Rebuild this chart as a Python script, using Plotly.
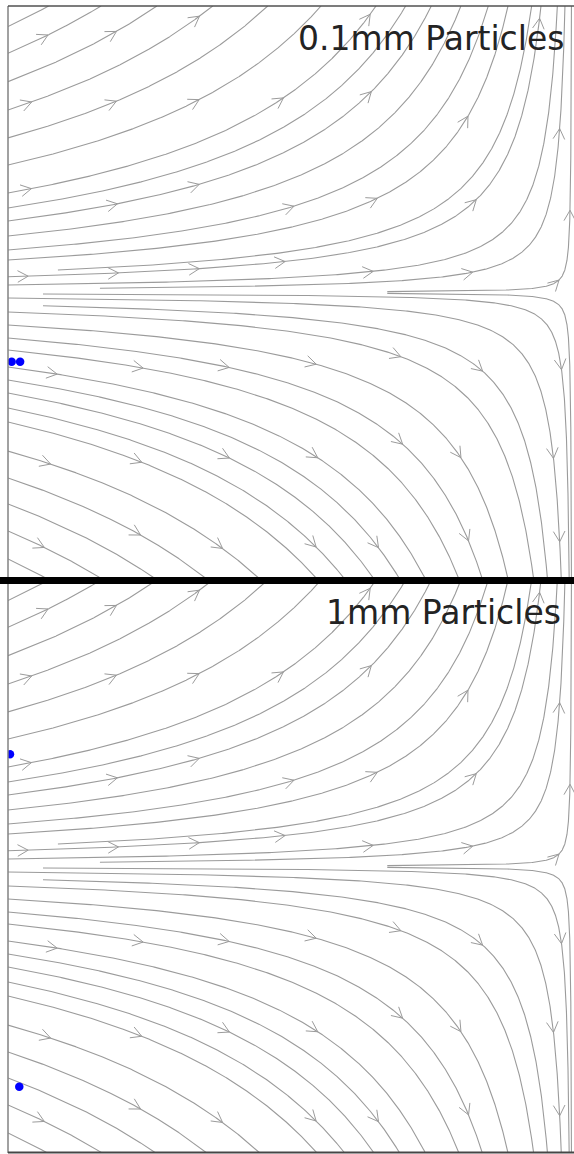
import numpy as np
import plotly.graph_objects as go

# Stagnation-point flow toward the wall at x = 1:  u = 1 - x,  v = y.
# Each streamline is the curve (1 - x) * y = c.

# streamlines that enter through the left edge (x = -1), labelled by c
inlet_c = [1.856, 1.670, 1.472, 1.274, 1.079, 0.890, 0.695, 0.590, 0.499,
           0.394, 0.297, 0.227, 0.110, 0.052,
           -0.038, -0.136, -0.227, -0.318, -0.401, -0.520, -0.611, -0.702,
           -0.806, -0.904, -1.107, -1.295, -1.476, -1.665, -1.860]

# streamlines that begin inside the box: constant, start x, end x (nan = runs out of the box)
inner_c = [0.143, 0.025, -0.010, -0.087, 0.002, -0.002]
inner_x0 = [-0.823, -0.674, -0.876, -0.876, 0.345, 0.345]
inner_x1 = [np.nan, np.nan, np.nan, np.nan, np.nan, np.nan]

# arrowhead locations along the streamlines
arrow_x = [-0.858, -0.613, -0.319, -0.915, -0.613, -0.319, -0.018, -0.915, -0.319, -0.613,
           -0.922, -0.613, -0.319, -0.018, -0.823, -0.521, -0.213, -0.844, -0.521, -0.213,
           -0.862, -0.521, -0.223, 0.298, 0.298, 0.663, 0.947, 0.014, 0.323, 0.677,
           0.965, 0.298, 0.652, 0.954, 0.096, 0.394, 0.677, 0.954, 0.096, 0.404,
           0.617, 0.936, 0.096, 0.323, 0.628, 0.961, 0.911]
arrow_y = [0.899, 0.906, 0.962, 0.661, 0.661, 0.668, 0.672, 0.358, 0.375, 0.305,
           0.054, 0.068, 0.082, 0.103, -0.281, -0.278, -0.260, -0.585, -0.578, -0.571,
           -0.871, -0.832, -0.871, 0.962, 0.693, 0.595, 0.571, 0.298, 0.298, 0.305,
           0.288, 0.068, 0.054, 0.044, -0.246, -0.225, -0.281, -0.271, -0.578, -0.525,
           -0.571, -0.578, -0.885, -0.885, -0.871, -0.871, 0.951]

# particle positions in each panel
titles = ["0.1mm Particles", "1mm Particles"]
particles_x = [[-0.987, -0.957], [-0.993, -0.960]]
particles_y = [[-0.2415, -0.2415], [0.392, -0.769]]

W, H = 574, 1154
X_LEFT_PX = 8
KX, KY = 282.0, 286.5          # pixels per data unit
LINE_COL = "rgb(155,155,155)"


def streamline(c, x0, x1):
    s0 = 1.0 - x0
    s1 = abs(c) if np.isnan(x1) else 1.0 - x1
    s = np.geomspace(s0, s1, 400)
    return 1.0 - s, c / s


curves = [streamline(c, -1.0, np.nan) for c in inlet_c]
curves += [streamline(c, a, b) for c, a, b in zip(inner_c, inner_x0, inner_x1)]

line_x, line_y = [], []
for cx, cy in curves:
    line_x += list(cx) + [None]
    line_y += list(cy) + [None]

# open chevron arrowheads, aligned with the local streamline direction
all_x = np.concatenate([c[0] for c in curves])
all_y = np.concatenate([c[1] for c in curves])
seg_id = np.concatenate([np.full(len(c[0]), i) for i, c in enumerate(curves)])
head_x, head_y = [], []
L, TH = 12.0, np.radians(29)
for ax_, ay_ in zip(arrow_x, arrow_y):
    d = np.hypot((all_x - ax_) * KX, (all_y - ay_) * KY)
    i = int(np.argmin(d))
    k = seg_id[i]
    cx, cy = curves[k]
    j = i - np.searchsorted(seg_id, k)
    j = min(max(j, 1), len(cx) - 2)
    tx = (cx[j + 1] - cx[j - 1]) * KX
    ty = (cy[j + 1] - cy[j - 1]) * KY
    n = np.hypot(tx, ty)
    tx, ty = tx / n, ty / n
    px, py = cx[j], cy[j]
    pts = []
    for sgn in (1, -1):
        ct, st = np.cos(sgn * TH), np.sin(sgn * TH)
        bx = -(tx * ct - ty * st) * L
        by = -(tx * st + ty * ct) * L
        pts.append((px + bx / KX, py + by / KY))
    head_x += [pts[0][0], px, pts[1][0], None]
    head_y += [pts[0][1], py, pts[1][1], None]

fig = go.Figure()

x_dom = [X_LEFT_PX / W, 1.0]
x_rng = [-1.0, -1.0 + (W - X_LEFT_PX) / KX]
panels_px = [(6, 579), (580, 1153)]

for p, (top_px, bot_px) in enumerate(panels_px):
    xa = "x" if p == 0 else "x2"
    ya = "y" if p == 0 else "y2"
    fig.add_trace(go.Scatter(x=line_x, y=line_y, mode="lines", xaxis=xa, yaxis=ya,
                             line=dict(color=LINE_COL, width=1.1), hoverinfo="skip",
                             showlegend=False))
    fig.add_trace(go.Scatter(x=head_x, y=head_y, mode="lines", xaxis=xa, yaxis=ya,
                             line=dict(color=LINE_COL, width=1.0), hoverinfo="skip",
                             showlegend=False))
    fig.add_trace(go.Scatter(x=particles_x[p], y=particles_y[p], mode="markers",
                             xaxis=xa, yaxis=ya,
                             marker=dict(color="rgb(0,0,255)", size=8.5, line=dict(width=0)),
                             showlegend=False))
    dom = [1 - bot_px / H, 1 - top_px / H]
    axis_x = dict(domain=x_dom, range=x_rng, visible=False, fixedrange=True)
    axis_y = dict(domain=dom, range=[-1, 1], visible=False, fixedrange=True)
    if p == 0:
        fig.update_layout(xaxis=dict(axis_x, anchor="y"), yaxis=dict(axis_y, anchor="x"))
    else:
        fig.update_layout(xaxis2=dict(axis_x, anchor="y2"), yaxis2=dict(axis_y, anchor="x2"))

title_top_px = [17, 591]
title_right_px = [566, 563]
for p in range(2):
    fig.add_annotation(text=titles[p], xref="paper", yref="paper",
                       x=title_right_px[p] / W, y=1 - title_top_px[p] / H,
                       xanchor="right", yanchor="top", showarrow=False,
                       font=dict(family="DejaVu Sans", size=33, color="rgb(35,35,35)"))


def hline(py, color, width, x0=X_LEFT_PX):
    return dict(type="line", xref="paper", yref="paper", x0=x0 / W, x1=1,
                y0=1 - py / H, y1=1 - py / H, line=dict(color=color, width=width))


fig.update_layout(
    width=W, height=H,
    margin=dict(l=0, r=0, t=0, b=0),
    paper_bgcolor="white", plot_bgcolor="white",
    shapes=[
        dict(type="line", xref="paper", yref="paper", x0=X_LEFT_PX / W, x1=X_LEFT_PX / W,
             y0=1 - 6 / H, y1=1 - 1153 / H, line=dict(color="rgb(130,130,130)", width=1.5)),
        hline(6, "rgb(80,80,80)", 1.5),
        hline(580.5, "black", 7, x0=0),
        hline(1152.5, "rgb(70,70,70)", 2),
    ],
)

fig.write_html("out.html")
